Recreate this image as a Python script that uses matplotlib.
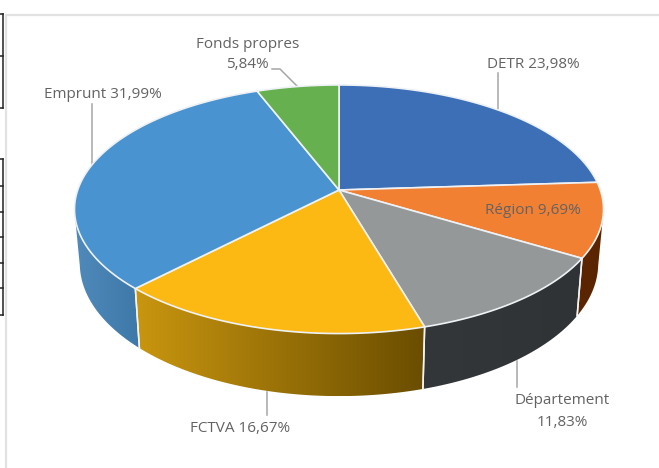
#!/usr/bin/env python3
import numpy as np
import matplotlib
matplotlib.use("Agg")
import matplotlib.pyplot as plt
from matplotlib.patches import Polygon
from matplotlib.colors import LinearSegmentedColormap

plt.rcParams["font.family"] = ["Open Sans", "DejaVu Sans"]

categories = ["DETR", "Région", "Département", "FCTVA", "Emprunt", "Fonds propres"]
values = [23.98, 9.69, 11.83, 16.67, 31.99, 5.84]
value_labels = ["23,98%", "9,69%", "11,83%", "16,67%", "31,99%", "5,84%"]
top_colors = ["#3d6fb6", "#f28033", "#959899", "#fdb913", "#4a93d1", "#67b04f"]
side_left = ["#2a4f85", "#5a2500", "#33373a", "#c9960f", "#4f8abb", "#3f7a30"]
side_right = ["#2a4f85", "#5a2500", "#2f3336", "#6a4d00", "#3d78a8", "#3f7a30"]

text_color = "#636363"
leader_color = "#a6a6a6"

# perspective model of the pie disc, in pixels
CX, CY = 339, 190
RX, RY, K = 261.3, 121.3, 0.155
LOW_SX, LOW_SY, LOW_CY = 0.98, 1.068, 242.8


def top_xy(t):
    u, v = np.sin(t), np.cos(t)
    d = 1 + K * v
    return CX + RX * u / d, CY - RY * v / d


def low_xy(t):
    x, y = top_xy(t)
    return CX + (x - CX) * LOW_SX, LOW_CY + (y - CY) * LOW_SY


fig = plt.figure(figsize=(6.59, 4.68), dpi=100)
ax = fig.add_axes([0, 0, 1, 1])
ax.set_xlim(0, 659)
ax.set_ylim(468, 0)
ax.axis("off")

# frame of the chart and bits of the cropped table on the left
ax.plot([6, 6, 659], [468, 15, 15], color="#e2e2e2", lw=1.6)
for y0, y1, rows in [(14, 108, [14, 56, 108]), (159, 315, [159, 186, 212, 237, 263, 288, 315])]:
    ax.plot([3, 3], [y0, y1], color="#222222", lw=1.1)
    for r in rows:
        ax.plot([0, 3], [r, r], color="#222222", lw=1.1)

edges = np.cumsum([0] + values) / sum(values) * 2 * np.pi
# the wall is only seen between the left and right extremes of the disc
wall_from, wall_to = np.radians(100), np.radians(260)

for i in range(len(values)):
    a, b = max(edges[i], wall_from), min(edges[i + 1], wall_to)
    if a >= b:
        continue
    t = np.linspace(a, b, 120)
    xt, yt = top_xy(t)
    xl, yl = low_xy(t)
    pts = np.r_[np.c_[xt, yt], np.c_[xl, yl][::-1]]
    poly = Polygon(pts, closed=True, fc="none", ec="none", zorder=2)
    ax.add_patch(poly)
    cmap = LinearSegmentedColormap.from_list("w", [side_left[i], side_right[i]])
    im = ax.imshow(np.linspace(0, 1, 256)[None, :], cmap=cmap, aspect="auto",
                   extent=[pts[:, 0].min(), pts[:, 0].max(), pts[:, 1].max(), pts[:, 1].min()],
                   zorder=2)
    im.set_clip_path(poly)
    # seams only where a slice really ends
    if a == edges[i]:
        ax.plot(pts[[0, -1], 0], pts[[0, -1], 1], color="#f4f4f4", lw=1.1, zorder=3)
    if b == edges[i + 1]:
        ax.plot(pts[[119, 120], 0], pts[[119, 120], 1], color="#f4f4f4", lw=1.1, zorder=3)

ax.set_xlim(0, 659)
ax.set_ylim(468, 0)

for i in range(len(values)):
    t = np.linspace(edges[i], edges[i + 1], 120)
    xt, yt = top_xy(t)
    pts = np.r_[[[CX, CY]], np.c_[xt, yt]]
    ax.add_patch(Polygon(pts, closed=True, fc=top_colors[i], ec="#eef2f5", lw=1.2,
                         joinstyle="round", zorder=4))

# leader lines
leaders = [
    ([498, 498], [73, 111]),
    ([272, 280, 298], [69, 69, 87]),
    ([92, 92], [104, 167]),
    ([267, 267], [392, 415]),
    ([517, 517], [361, 387]),
]
for xs, ys in leaders:
    ax.plot(xs, ys, color=leader_color, lw=1.1, zorder=1)

# labels
fs = 11
labels = [
    (533, 64, categories[0] + " " + value_labels[0]),
    (533, 211, categories[1] + " " + value_labels[1]),
    (562, 400, categories[2]),
    (562, 422, value_labels[2]),
    (240, 428.5, categories[3] + " " + value_labels[3]),
    (102.5, 94, categories[4] + " " + value_labels[4]),
    (247.5, 44, categories[5]),
    (247.5, 65, value_labels[5]),
]
for x, y, s in labels:
    ax.text(x, y, s, color=text_color, fontsize=fs, ha="center", va="center", zorder=5)

fig.savefig("out.png", dpi=100)
